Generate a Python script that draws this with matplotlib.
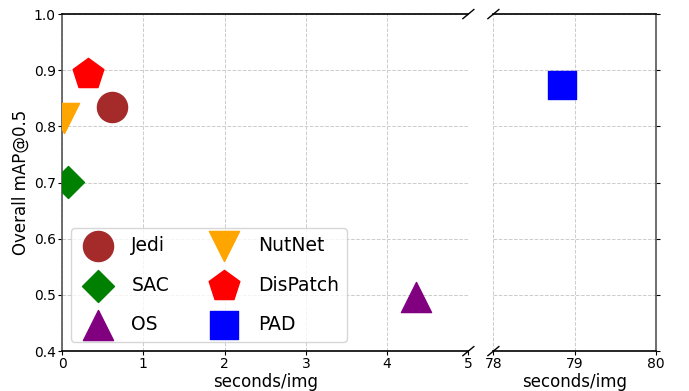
import matplotlib
matplotlib.use("Agg")
import matplotlib.pyplot as plt
import matplotlib.gridspec as GS

# methods, speed (seconds/img) and accuracy (overall mAP@0.5)
methods = ['Jedi', 'SAC', 'OS', 'NutNet', 'DisPatch', 'PAD']
speed = [0.62, 0.07, 4.35, 0.03, 0.32, 78.85]
mAP = [0.835, 0.701, 0.497, 0.815, 0.894, 0.873]

# styling
markers = ['o', 'D', '^', 'v', 'p', 's']
colors = ['brown', 'green', 'purple', 'orange', 'red', 'blue']
msize = {'o': 470, 'D': 265, '^': 470, 'v': 470, 'p': 540, 's': 380}

f = plt.figure(figsize=(6.89, 3.91), dpi=100)
gs = GS.GridSpec(1, 2, width_ratios=[5, 2], wspace=0.088,
                 left=0.09, right=0.952, bottom=0.102, top=0.964)
ax1 = f.add_subplot(gs[0, 0])
ax2 = f.add_subplot(gs[0, 1], sharey=ax1)

for name, x, y, m, c in zip(methods, speed, mAP, markers, colors):
    ax = ax1 if x < 10 else ax2
    ax.scatter(x, y, s=msize[m], marker=m, color=c, label=name, zorder=3)

ax1.set_xlim(0, 5)
ax2.set_xlim(78, 80)
ax1.set_ylim(0.4, 1.0)
ax1.set_xticks([0, 1, 2, 3, 4, 5])
ax2.set_xticks([78, 79, 80])

for ax in (ax1, ax2):
    ax.grid(True, linestyle='--', color='#cccccc', linewidth=0.7)
    ax.set_axisbelow(True)
    ax.set_xlabel('seconds/img', fontsize=12, labelpad=1)
    ax.tick_params(labelsize=10, length=3, pad=1.5)
    for s in ax.spines.values():
        s.set_linewidth(1.2)
ax1.spines['left'].set_color('#555555')
ax2.spines['right'].set_color('#555555')

ax1.spines['right'].set_visible(False)
ax2.spines['left'].set_visible(False)
ax2.yaxis.tick_right()
ax2.tick_params(labelright=False, labelleft=False)
ax1.set_ylabel('Overall mAP@0.5', fontsize=12, labelpad=3)

# break marks
d = 0.0135
kw = dict(transform=ax1.transAxes, color='k', clip_on=False, lw=1)
ax1.plot((1 - d, 1 + d), (-d, d), **kw)
ax1.plot((1 - d, 1 + d), (1 - d, 1 + d), **kw)
kw.update(transform=ax2.transAxes)
r = 5 / 2
ax2.plot((-d * r, d * r), (-d, d), **kw)
ax2.plot((-d * r, d * r), (1 - d, 1 + d), **kw)

h1, l1 = ax1.get_legend_handles_labels()
h2, l2 = ax2.get_legend_handles_labels()
ax1.legend(h1 + h2, l1 + l2, ncol=2, loc='lower left', fontsize=13.5,
           handletextpad=0.8, columnspacing=1.95, labelspacing=1.1)

f.savefig('out.png')
